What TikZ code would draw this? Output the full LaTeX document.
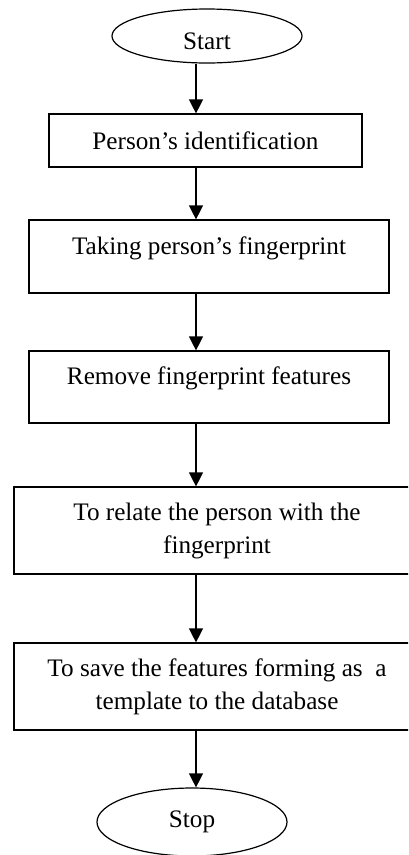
\documentclass[tikz,border=0pt]{standalone}
\usepackage{fontspec}
\setmainfont{Liberation Serif}
\usetikzlibrary{shapes.geometric,arrows.meta}
\begin{document}
\begin{tikzpicture}[x=1pt,y=-1pt,
  every node/.style={font=\fontsize{25.2}{33}\selectfont, inner sep=0pt},
  term/.style={draw, line width=1.2pt, ellipse, minimum width=190pt},
  stepbox/.style={draw, line width=1.2pt, rectangle, align=center},
  flow/.style={line width=1.3pt, -{Triangle[length=14pt,width=14pt]}}]
\useasboundingbox (0,0) rectangle (408,855);
\clip (0,0) rectangle (408,855);
\coordinate (ax) at (196,0);
\node[term, minimum height=54pt, text height=27.5pt, text depth=0pt] (start) at (207,36) {Start};
\node[stepbox, minimum width=313pt, minimum height=53pt] (b1) at (205.5,140.5) {Person’s identification};
\node[stepbox, minimum width=360pt, minimum height=73pt, text height=17pt, text depth=21.5pt] (b2) at (209,256.5) {Taking person’s fingerprint};
\node[stepbox, minimum width=360pt, minimum height=72pt, text height=17pt, text depth=21.5pt] (b3) at (209,387) {Remove fingerprint features};
\node[stepbox, minimum width=406pt, minimum height=87pt] (b4) at (217,530.5) {To relate the person with the\\fingerprint};
\node[stepbox, minimum width=406pt, minimum height=87pt] (b5) at (217,686.5) {To save the features forming as\ \ a\\template to the database};
\node[term, minimum height=68pt] (stop) at (192,822) {Stop};
\draw[flow] (start.south -| ax) -- (b1.north -| ax);
\draw[flow] (b1.south -| ax) -- (b2.north -| ax);
\draw[flow] (b2.south -| ax) -- (b3.north -| ax);
\draw[flow] (b3.south -| ax) -- (b4.north -| ax);
\draw[flow] (b4.south -| ax) -- (b5.north -| ax);
\draw[flow] (b5.south -| ax) -- (stop.north -| ax);
\end{tikzpicture}
\end{document}
